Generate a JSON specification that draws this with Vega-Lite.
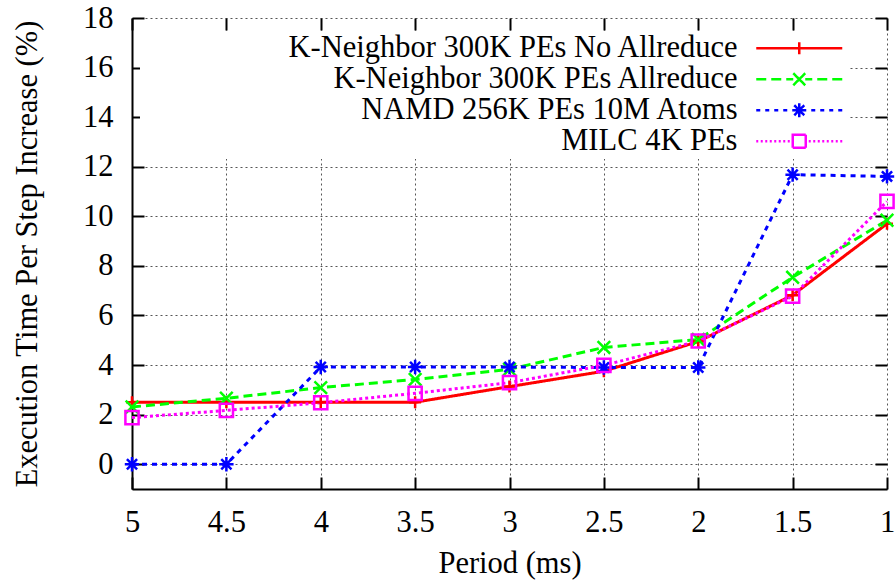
{
  "$schema": "https://vega.github.io/schema/vega-lite/v6.json",
  "width": 755,
  "height": 471,
  "autosize": {"type": "none"},
  "padding": {"left": 132, "top": 18, "right": 9, "bottom": 92},
  "background": "white",
  "config": {
    "view": {"stroke": null},
    "font": "Liberation Serif",
    "axis": {
      "labelFont": "Liberation Serif",
      "titleFont": "Liberation Serif",
      "labelFontSize": 30.5,
      "titleFontSize": 30.5,
      "titleFontWeight": "normal",
      "labelColor": "black",
      "titleColor": "black",
      "domainColor": "black",
      "tickColor": "black",
      "domainWidth": 2,
      "tickWidth": 2,
      "tickSize": -12,
      "gridColor": "#555555",
      "gridDash": [2, 3],
      "gridWidth": 1,
      "labelFlush": false,
      "labelOverlap": false
    }
  },
  "data": {
    "values": [
      {"period": 5, "value": 2.5, "series": "K-Neighbor 300K PEs No Allreduce"},
      {"period": 4.5, "value": 2.5, "series": "K-Neighbor 300K PEs No Allreduce"},
      {"period": 4, "value": 2.5, "series": "K-Neighbor 300K PEs No Allreduce"},
      {"period": 3.5, "value": 2.5, "series": "K-Neighbor 300K PEs No Allreduce"},
      {"period": 3, "value": 3.13, "series": "K-Neighbor 300K PEs No Allreduce"},
      {"period": 2.5, "value": 3.75, "series": "K-Neighbor 300K PEs No Allreduce"},
      {"period": 2, "value": 4.95, "series": "K-Neighbor 300K PEs No Allreduce"},
      {"period": 1.5, "value": 6.82, "series": "K-Neighbor 300K PEs No Allreduce"},
      {"period": 1, "value": 9.7, "series": "K-Neighbor 300K PEs No Allreduce"},
      {"period": 5, "value": 2.31, "series": "K-Neighbor 300K PEs Allreduce"},
      {"period": 4.5, "value": 2.66, "series": "K-Neighbor 300K PEs Allreduce"},
      {"period": 4, "value": 3.09, "series": "K-Neighbor 300K PEs Allreduce"},
      {"period": 3.5, "value": 3.42, "series": "K-Neighbor 300K PEs Allreduce"},
      {"period": 3, "value": 3.83, "series": "K-Neighbor 300K PEs Allreduce"},
      {"period": 2.5, "value": 4.71, "series": "K-Neighbor 300K PEs Allreduce"},
      {"period": 2, "value": 5.03, "series": "K-Neighbor 300K PEs Allreduce"},
      {"period": 1.5, "value": 7.54, "series": "K-Neighbor 300K PEs Allreduce"},
      {"period": 1, "value": 9.84, "series": "K-Neighbor 300K PEs Allreduce"},
      {"period": 5, "value": 0, "series": "NAMD 256K PEs 10M Atoms"},
      {"period": 4.5, "value": 0, "series": "NAMD 256K PEs 10M Atoms"},
      {"period": 4, "value": 3.92, "series": "NAMD 256K PEs 10M Atoms"},
      {"period": 3.5, "value": 3.92, "series": "NAMD 256K PEs 10M Atoms"},
      {"period": 3, "value": 3.92, "series": "NAMD 256K PEs 10M Atoms"},
      {"period": 2.5, "value": 3.9, "series": "NAMD 256K PEs 10M Atoms"},
      {"period": 2, "value": 3.9, "series": "NAMD 256K PEs 10M Atoms"},
      {"period": 1.5, "value": 11.68, "series": "NAMD 256K PEs 10M Atoms"},
      {"period": 1, "value": 11.61, "series": "NAMD 256K PEs 10M Atoms"},
      {"period": 5, "value": 1.88, "series": "MILC 4K PEs"},
      {"period": 4.5, "value": 2.17, "series": "MILC 4K PEs"},
      {"period": 4, "value": 2.48, "series": "MILC 4K PEs"},
      {"period": 3.5, "value": 2.86, "series": "MILC 4K PEs"},
      {"period": 3, "value": 3.29, "series": "MILC 4K PEs"},
      {"period": 2.5, "value": 3.99, "series": "MILC 4K PEs"},
      {"period": 2, "value": 4.97, "series": "MILC 4K PEs"},
      {"period": 1.5, "value": 6.78, "series": "MILC 4K PEs"},
      {"period": 1, "value": 10.6, "series": "MILC 4K PEs"}
    ]
  },
  "layer": [
    {
      "mark": {"type": "line", "strokeWidth": 3},
      "encoding": {
        "x": {
          "field": "period", "type": "quantitative",
          "scale": {"domain": [1, 5], "reverse": true, "nice": false, "zero": false},
          "axis": {"title": "Period (ms)", "values": [1, 1.5, 2, 2.5, 3, 3.5, 4, 4.5, 5], "format": "~g", "grid": true, "labelPadding": 30, "titlePadding": 11}
        },
        "y": {
          "field": "value", "type": "quantitative",
          "scale": {"domain": [-1, 18], "nice": false, "zero": false},
          "axis": {"title": "Execution Time Per Step Increase (%)", "values": [0, 2, 4, 6, 8, 10, 12, 14, 16, 18], "format": "d", "grid": true, "labelPadding": 31, "titlePadding": 40}
        },
        "color": {
          "field": "series", "type": "nominal",
          "scale": {
            "domain": ["K-Neighbor 300K PEs No Allreduce", "K-Neighbor 300K PEs Allreduce", "NAMD 256K PEs 10M Atoms", "MILC 4K PEs"],
            "range": ["#ff0000", "#00ff00", "#0000ff", "#ff00ff"]
          },
          "legend": {
            "title": null,
            "orient": "none",
            "legendX": 8,
            "legendY": 13,
            "direction": "vertical",
            "labelFont": "Liberation Serif",
            "labelFontSize": 30.5,
            "labelColor": "black",
            "labelAlign": "right",
            "labelLimit": 1000,
            "labelOffset": -77,
            "symbolOffset": 642,
            "symbolSize": 400,
            "rowPadding": -3,
            "padding": 2,
            "fillColor": "white",
            "encode": {
              "symbols": {
                "update": {
                  "shape": {"signal": "['M-4.3,0H4.3M0,-0.6V0.6', 'M-4.3,0H-3.3M-2.8,0H-1.8M-1.3,0H-0.6M0.6,0H1.3M1.8,0H2.8M3.3,0H4.3M-0.6,-0.6L0.6,0.6M-0.6,0.6L0.6,-0.6', 'M-4.3,0H-3.9M-3.4,0H-3.0M-2.5,0H-2.1M-1.6,0H-1.2M1.2,0H1.6M2.1,0H2.5M3.0,0H3.4M3.9,0H4.3M-0.7,0H0.7M0,-0.7V0.7M-0.5,-0.5L0.5,0.5M-0.5,0.5L0.5,-0.5', 'M-4.3,0H-4.1M-3.85,0H-3.65M-3.4,0H-3.2M-2.95,0H-2.75M-2.5,0H-2.3M-2.05,0H-1.85M-1.6,0H-1.4M-1.15,0H-0.95M0.95,0H1.15M1.4,0H1.6M1.85,0H2.05M2.3,0H2.5M2.75,0H2.95M3.2,0H3.4M3.65,0H3.85M4.1,0H4.3M-0.65,-0.65H0.65V0.65H-0.65Z'][datum.index]"},
                  "stroke": {"signal": "['#ff0000', '#00ff00', '#0000ff', '#ff00ff'][datum.index]"},
                  "strokeWidth": {"value": 2.5},
                  "fill": {"value": "transparent"},
                  "strokeDash": {"value": [1, 0]},
                  "size": {"value": 400},
                  "opacity": {"value": 1}
                }
              }
            }
          }
        },
        "strokeDash": {
          "field": "series", "type": "nominal",
          "scale": {
            "domain": ["K-Neighbor 300K PEs No Allreduce", "K-Neighbor 300K PEs Allreduce", "NAMD 256K PEs 10M Atoms", "MILC 4K PEs", "_dash"],
            "range": [[1, 0], [9, 5], [5, 5], [3, 3], [1, 0]]
          },
          "legend": null
        }
      }
    },
    {
      "mark": {"type": "point", "filled": false, "strokeWidth": 2.5, "size": 144, "opacity": 1},
      "encoding": {
        "x": {
          "field": "period", "type": "quantitative",
          "scale": {"domain": [1, 5], "reverse": true, "nice": false, "zero": false},
          "axis": {"orient": "top", "title": null, "labels": false, "domain": false, "grid": false, "values": [1, 1.5, 2, 2.5, 3, 3.5, 4, 4.5, 5]}
        },
        "y": {
          "field": "value", "type": "quantitative",
          "scale": {"domain": [-1, 18], "nice": false, "zero": false},
          "axis": {"orient": "right", "title": null, "labels": false, "domain": false, "grid": false, "values": [0, 2, 4, 6, 8, 10, 12, 14, 16, 18]}
        },
        "stroke": {
          "field": "series", "type": "nominal",
          "scale": {
            "domain": ["K-Neighbor 300K PEs No Allreduce", "K-Neighbor 300K PEs Allreduce", "NAMD 256K PEs 10M Atoms", "MILC 4K PEs", "_stroke"],
            "range": ["#ff0000", "#00ff00", "#0000ff", "#ff00ff", "#000000"]
          },
          "legend": null
        },
        "shape": {
          "field": "series", "type": "nominal",
          "scale": {
            "domain": ["K-Neighbor 300K PEs No Allreduce", "K-Neighbor 300K PEs Allreduce", "NAMD 256K PEs 10M Atoms", "MILC 4K PEs", "_shape"],
            "range": ["M-1,0H1M0,-1V1", "M-1.05,-1.05L1.05,1.05M-1.05,1.05L1.05,-1.05", "M-1.2,0H1.2M0,-1.2V1.2M-0.85,-0.85L0.85,0.85M-0.85,0.85L0.85,-0.85", "M-1.1,-1.1H1.1V1.1H-1.1Z", "circle"]
          },
          "legend": null
        }
      }
    }
  ],
  "resolve": {"axis": {"x": "independent", "y": "independent"}}
}
